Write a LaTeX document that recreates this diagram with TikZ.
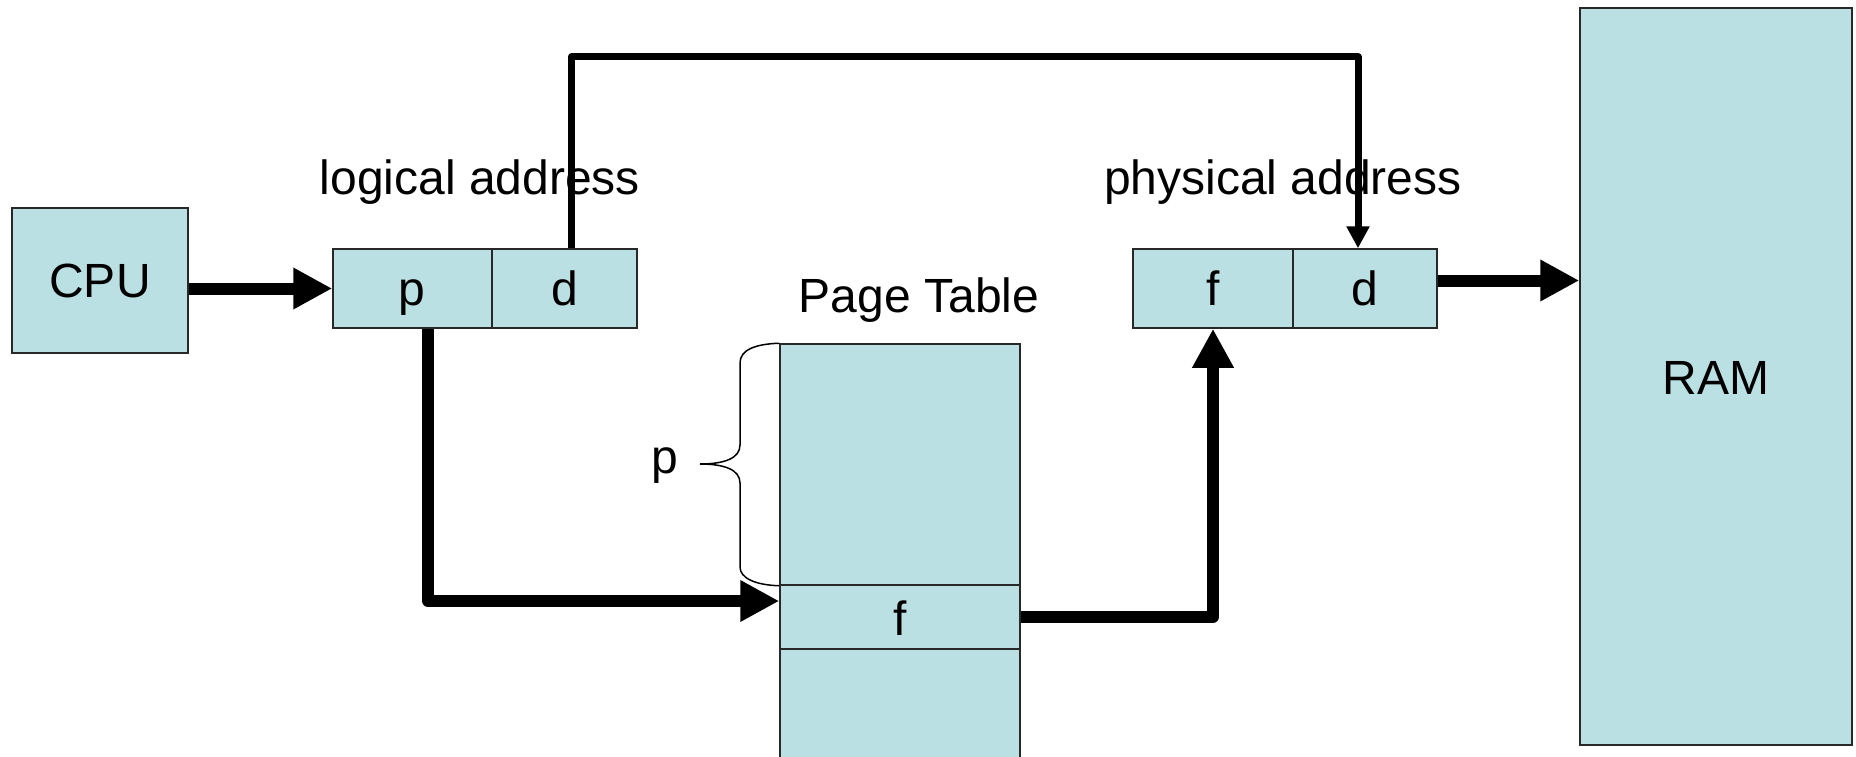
\documentclass[tikz,border=0pt]{standalone}
\usepackage{fontspec}
\newfontfamily\diagfont{Liberation Sans}
\usetikzlibrary{arrows.meta}
\definecolor{boxfill}{RGB}{187,224,227}
\definecolor{boxline}{RGB}{40,40,40}
\begin{document}
\begin{tikzpicture}[x=1pt,y=-1pt,
  box/.style={draw=boxline,line width=1.5pt,fill=boxfill,inner sep=0pt,rectangle},
  txt/.style={font=\diagfont\fontsize{48}{56}\selectfont,inner sep=0pt,anchor=base},
  bigarrow/.style={line width=12pt,line join=round,-{Triangle[length=39pt,width=39pt]}},
  thinarrow/.style={line width=7pt,line join=round,-{Triangle[length=22pt,width=22pt]}},
  bracestyle/.style={line width=1.5pt}
]
\useasboundingbox (0,0) rectangle (1856,757);
% boxes
\node[box,minimum width=176pt,minimum height=145pt] (cpu) at (100,280.5) {};
\node[box,minimum width=159pt,minimum height=79pt] (lp) at (412.5,288.5) {};
\node[box,minimum width=145pt,minimum height=79pt] (ld) at (564.5,288.5) {};
\node[box,minimum width=160pt,minimum height=79pt] (pf) at (1213,288.5) {};
\node[box,minimum width=144pt,minimum height=79pt] (pd) at (1365,288.5) {};
\node[box,minimum width=240pt,minimum height=241pt] (pttop) at (900,464.5) {};
\node[box,minimum width=240pt,minimum height=64pt] (ptf) at (900,617) {};
\node[box,minimum width=240pt,minimum height=125pt] (ptbot) at (900,711.5) {};
\node[box,minimum width=272pt,minimum height=737pt] (ram) at (1716,376.5) {};
% texts
\node[txt] (cputxt) at (100,297) {CPU};
\node[txt] (lptxt) at (412,305) {p};
\node[txt] (ldtxt) at (565,305) {d};
\node[txt] (pftxt) at (1213,305) {f};
\node[txt] (pdtxt) at (1365,305) {d};
\node[txt] (ptftxt) at (900,635) {f};
\node[txt] (ramtxt) at (1716,394) {RAM};
\node[txt] (logtxt) at (480,194) {logical address};
\node[txt] (phystxt) at (1283,194) {physical address};
\node[txt] (pttxt) at (919,312) {Page Table};
\node[txt] (bracetxt) at (665,473) {p};
% brace
\draw[bracestyle] (pttop.north west) .. controls (755,344) and (740,350) .. (740,363)
  -- (740,445) .. controls (740,458) and (725,464) .. (700,464)
  .. controls (725,464) and (740,470) .. (740,483)
  -- (740,567) .. controls (740,578) and (755,585) .. (pttop.south west);
% connectors
\coordinate (toprow) at (0,57);
\draw[bigarrow] (cpu.east |- lp.west) -- (lp.west);
\draw[thinarrow] ([xshift=7pt]ld.north) -- ([xshift=7pt]ld.north |- toprow) -| ([xshift=-7pt]pd.north);
\draw[bigarrow] ([xshift=15.5pt]lp.south) |- ([yshift=16pt]ptf.west);
\draw[bigarrow] (ptf.east) -| (pf.south);
\draw[bigarrow] ([yshift=8pt]pd.east) -- ([yshift=8pt]pd.east -| ram.west);
\end{tikzpicture}
\end{document}
